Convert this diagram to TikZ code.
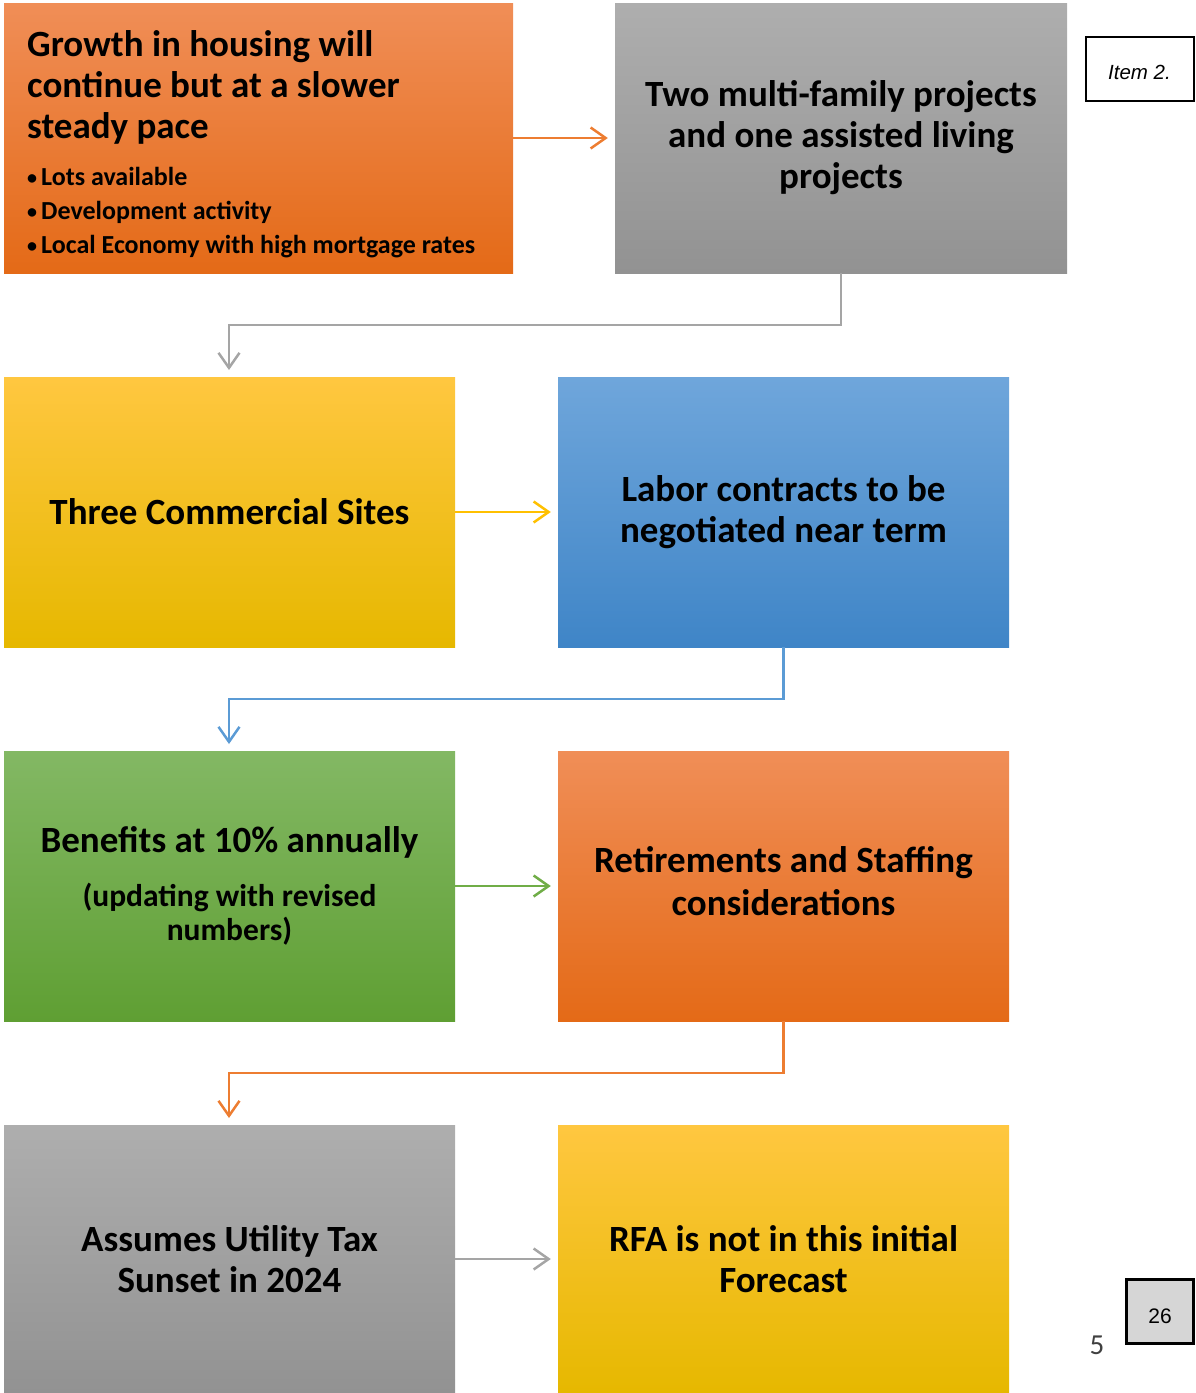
\documentclass[tikz,border=0pt]{standalone}
\usepackage{fontspec}
\setmainfont{Carlito}
\newfontfamily\arialfont{Liberation Sans}
\usetikzlibrary{arrows.meta}
\definecolor{orTop}{HTML}{F08E57}
\definecolor{orMid}{HTML}{F47B20}
\definecolor{orBot}{HTML}{E46A17}
\definecolor{grTop}{HTML}{AEAEAE}
\definecolor{grMid}{HTML}{A3A3A3}
\definecolor{grBot}{HTML}{929292}
\definecolor{yeTop}{HTML}{FFC740}
\definecolor{yeMid}{HTML}{FFC000}
\definecolor{yeBot}{HTML}{E6B800}
\definecolor{blTop}{HTML}{6FA6DB}
\definecolor{blMid}{HTML}{5599D8}
\definecolor{blBot}{HTML}{3F85C7}
\definecolor{gnTop}{HTML}{83B864}
\definecolor{gnMid}{HTML}{6EAF40}
\definecolor{gnBot}{HTML}{5F9F33}
\definecolor{aOr}{HTML}{ED7D31}
\definecolor{aGr}{HTML}{A5A5A5}
\definecolor{aYe}{HTML}{FFC000}
\definecolor{aBl}{HTML}{5B9BD5}
\definecolor{aGn}{HTML}{70AD47}
\newcommand{\mybul}{\makebox[14pt][l]{\fontsize{20}{20}\selectfont\raisebox{1pt}{\textbullet}}}
\begin{document}
\begin{tikzpicture}[x=1pt,y=-1pt,
  box/.style={rectangle, inner sep=0pt, minimum width=451pt, minimum height=270pt,
    align=center, font=\bfseries\fontsize{37}{41}\selectfont},
  orbox/.style={box, top color=orTop, middle color=orMid, bottom color=orBot},
  grbox/.style={box, top color=grTop, middle color=grMid, bottom color=grBot},
  yebox/.style={box, top color=yeTop, middle color=yeMid, bottom color=yeBot},
  blbox/.style={box, top color=blTop, middle color=blMid, bottom color=blBot},
  gnbox/.style={box, top color=gnTop, middle color=gnMid, bottom color=gnBot},
  conn/.style={line width=2.5pt, -{Straight Barb[length=15pt,width=21pt,line width=2.5pt]}},
  hconn/.style={conn, shorten >=7pt}
]
\useasboundingbox (0,0) rectangle (1196,1393);

% boxes
\node[orbox, minimum width=509pt] (b1) at (258.5,138) {};
\node[anchor=north west, inner sep=0pt, text width=500pt, align=flush left,
      font=\bfseries\fontsize{37}{41}\selectfont] (t1) at (27,30)
  {{\fontsize{37}{41}\selectfont Growth in housing will\\continue but at a slower\\steady pace\par}
   \vspace{13pt}
   {\fontsize{26}{34}\selectfont \mybul Lots available\\
    \mybul Development activity\\
    \mybul Local Economy with high mortgage rates\par}};
\node[grbox, minimum width=452pt] (b2) at (841,138)
  {Two multi-family projects\\and one assisted living\\projects};
\node[yebox] (b3) at (229.5,512) {Three Commercial Sites};
\node[blbox] (b4) at (783.5,512) {Labor contracts to be\\negotiated near term};
\node[gnbox] (b5) at (229.5,886)
  {Benefits at 10\% annually\\[13pt]
   {\fontsize{31.5}{34}\selectfont (updating with revised}\\[-7pt]
   {\fontsize{31.5}{34}\selectfont numbers)}};
\node[orbox] (b6) at (783.5,886) {Retirements and Staffing\\[2pt]considerations\rule[-10pt]{0pt}{0pt}};
\node[grbox, minimum height=268pt] (b7) at (229.5,1259) {Assumes Utility Tax\\Sunset in 2024};
\node[yebox, minimum height=268pt] (b8) at (783.5,1259) {RFA is not in this initial\\Forecast};

% side labels
\node[draw, line width=2pt, minimum width=108pt, minimum height=64pt, inner sep=0pt,
      text height=21pt, text depth=0pt,
      font=\arialfont\itshape\fontsize{20.5}{24}\selectfont] (item) at (1139.5,69) {Item 2.};
\node[draw, line width=2.5pt, fill={rgb,255:red,214;green,214;blue,214}, minimum width=67pt,
      minimum height=64pt, inner sep=0pt, text height=24pt, text depth=0pt,
      font=\arialfont\fontsize{21}{24}\selectfont]
      (pg) at (1160,1311.5) {26};
\node[inner sep=0pt, text={rgb,255:red,64;green,64;blue,64},
      font=\fontsize{29}{32}\selectfont] (five) at (1097,1345) {5};

% coordinates for elbow ends
\coordinate (e1) at (229,370);
\coordinate (e2) at (229,744);
\coordinate (e3) at (229,1118);

% connectors
\draw[hconn, aOr] (b1.east) -- (b2.west);
\draw[conn, aGr] (b2.south) -- ++(0,52) -| (e1);
\draw[hconn, aYe] (b3.east) -- (b4.west);
\draw[conn, aBl] (b4.south) -- ++(0,52) -| (e2);
\draw[hconn, aGn] (b5.east) -- (b6.west);
\draw[conn, aOr] (b6.south) -- ++(0,52) -| (e3);
\draw[hconn, aGr] (b7.east) -- (b8.west);
\end{tikzpicture}
\end{document}
